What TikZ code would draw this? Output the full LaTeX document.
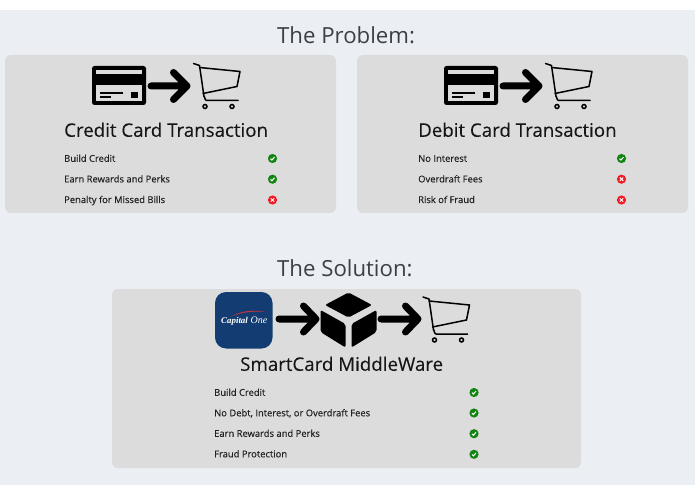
\documentclass[tikz,border=0pt]{standalone}
\usepackage{fontspec}
\setmainfont{Open Sans}
\newfontfamily\logofont{Liberation Serif}
\definecolor{pagebg}{HTML}{EBEEF3}
\definecolor{panelbg}{HTML}{DCDCDC}
\definecolor{titlecol}{HTML}{3A4046}
\definecolor{headcol}{HTML}{161616}
\definecolor{rowcol}{HTML}{222222}
\definecolor{okcol}{HTML}{128412}
\definecolor{badcol}{HTML}{EE1C25}
\definecolor{capblue}{HTML}{123C72}
\definecolor{capred}{HTML}{C8323C}
\tikzset{
  x=1pt,y=-1pt,
  panel/.style={fill=panelbg,rounded corners=6pt,draw=none},
  titletext/.style={anchor=base west,inner sep=0pt,text=titlecol,font=\fontsize{22.2}{26}\selectfont},
  headtext/.style={anchor=base west,inner sep=0pt,text=headcol,font=\fontsize{18.7}{24}\selectfont\addfontfeatures{FakeBold=0.15}},
  rowtext/.style={anchor=base west,inner sep=0pt,text=rowcol,font=\fontsize{9.4}{13}\selectfont\addfontfeatures{FakeBold=0.3}},
  bigarrow/.style={line width=7pt,line cap=round,line join=round},
  cartline/.style={line width=1.5pt,line join=round,line cap=round},
  cubeface/.style={fill=black,rounded corners=2pt},
  pics/cart/.style={code={
    \draw[cartline] (0,0) -- (6,2) -- (10.5,33) to[out=80,in=180] (13,37) -- (44.5,37);
    \draw[cartline] (6,4) -- (46.5,8) -- (43.5,23) -- (9.5,30);
    \draw[line width=1.5pt,fill=panelbg] (11.5,43) circle (2);
    \draw[line width=1.5pt,fill=panelbg] (38.5,43) circle (2);
  }},
  pics/card/.style={code={
    \fill[black,rounded corners=2.5pt] (0,0) rectangle (54,39);
    \fill[panelbg] (4,4) rectangle (50,8);
    \fill[panelbg] (4,19) rectangle (50,35.5);
    \fill[black] (8,26) rectangle (31,27.8);
    \fill[black] (8,30) rectangle (19,31.8);
    \fill[black] (39,26) rectangle (46,32);
  }},
  pics/okmark/.style={code={
    \fill[okcol] (0,0) circle (4.6);
    \draw[white,line width=1pt] (-2,0.2) -- (-0.6,1.6) -- (2,-1.4);
  }},
  pics/badmark/.style={code={
    \fill[badcol] (0,0) circle (4.6);
    \draw[white,line width=1pt] (-1.7,-1.7) -- (1.7,1.7) (-1.7,1.7) -- (1.7,-1.7);
  }},
}
\newcommand{\cardflow}[1]{%
  \pic at (#1+92,66) {card};
  \coordinate (s#1) at (#1+151,86);
  \coordinate (t#1) at (#1+187,86);
  \coordinate (u#1) at (#1+173.5,72.5);
  \coordinate (v#1) at (#1+173.5,99.5);
  \draw[bigarrow] (s#1) -- (t#1) (u#1) -- (t#1) -- (v#1);
  \pic at (#1+193.5,63.5) {cart};
}
\begin{document}
\begin{tikzpicture}
\useasboundingbox (0,0) rectangle (695,494);
\fill[white] (0,0) rectangle (695,494);
\fill[pagebg] (0,10) rectangle (695,485);

\node[titletext] (ptitle) at (277,43.5) {The Problem:};
\fill[panel] (5,55) rectangle (336,213);
\fill[panel] (357,55) rectangle (688,213);
\cardflow{0}
\cardflow{352}
\node[headtext] (chead) at (64,136.8) {Credit Card Transaction};
\node[headtext] (dhead) at (418,136.8) {Debit Card Transaction};

\node[rowtext] (c1) at (64,161.8) {Build Credit};
\node[rowtext] (c2) at (64,182.4) {Earn Rewards and Perks};
\node[rowtext] (c3) at (64,203) {Penalty for Missed Bills};
\pic at (272.5,158.5) {okmark};
\pic at (272.5,179.2) {okmark};
\pic at (272.5,200) {badmark};

\node[rowtext] (d1) at (418,161.8) {No Interest};
\node[rowtext] (d2) at (418,182.4) {Overdraft Fees};
\node[rowtext] (d3) at (418,203) {Risk of Fraud};
\pic at (621.5,158.5) {okmark};
\pic at (621.5,179.2) {badmark};
\pic at (621.5,200) {badmark};

\node[titletext] (stitle) at (277,276.5) {The Solution:};
\fill[panel] (112,289) rectangle (581,468);

% Capital One logo
\fill[capblue,rounded corners=11pt] (215,292) rectangle (272.5,348.5);
\fill[capred] (231,316.5) .. controls (241,310.5) and (255,309.5) .. (265.5,312)
  .. controls (255,310.8) and (242,312) .. (231,316.5) -- cycle;
\node[inner sep=0pt,anchor=base west,text=white,font=\logofont\fontsize{8.9}{9}\selectfont\bfseries\itshape] (capa) at (221,323.5) {Capital};
\node[inner sep=0pt,anchor=base west,text=white,font=\logofont\fontsize{10}{10}\selectfont\itshape] (capb) at (250.5,323.5) {One};

\coordinate (a1s) at (279,319);
\coordinate (a1t) at (316,319);
\coordinate (a1u) at (303.5,306);
\coordinate (a1v) at (303.5,332);
\draw[bigarrow] (a1s) -- (a1t) (a1u) -- (a1t) -- (a1v);

% cube
\fill[cubeface] (348.5,292.5) -- (372,305) -- (348.5,317.5) -- (325,305) -- cycle;
\fill[cubeface] (320.5,310) -- (345.5,324) -- (345.5,347.5) -- (320.5,332) -- cycle;
\fill[cubeface] (376.5,310) -- (351.5,324) -- (351.5,347.5) -- (376.5,332) -- cycle;

\coordinate (a2s) at (381,319);
\coordinate (a2t) at (418,319);
\coordinate (a2u) at (405.5,306);
\coordinate (a2v) at (405.5,332);
\draw[bigarrow] (a2s) -- (a2t) (a2u) -- (a2t) -- (a2v);
\pic at (423,297) {cart};

\node[headtext] (shead) at (240,370.8) {SmartCard MiddleWare};
\node[rowtext] (s1) at (214,395.8) {Build Credit};
\node[rowtext] (s2) at (214,416.3) {No Debt, Interest, or Overdraft Fees};
\node[rowtext] (s3) at (214,436.8) {Earn Rewards and Perks};
\node[rowtext] (s4) at (214,457.3) {Fraud Protection};
\pic at (474,392.5) {okmark};
\pic at (474,413) {okmark};
\pic at (474,433.7) {okmark};
\pic at (474,454.3) {okmark};
\end{tikzpicture}
\end{document}
